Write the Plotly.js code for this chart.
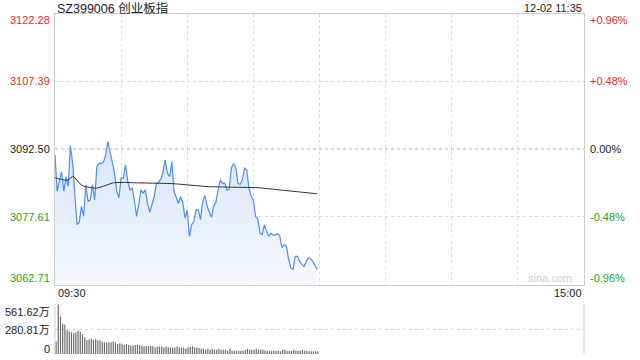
<!DOCTYPE html>
<html>
<head>
<meta charset="utf-8">
<script src="https://cdn.plot.ly/plotly-3.0.1.min.js"></script>
<style>html,body{margin:0;padding:0;background:#fff;}#chart{width:640px;height:360px;}</style>
</head>
<body>
<div id="chart"></div>
<script>
// ---- data ----
const title = "SZ399006 创业板指";
const stamp = "12-02 11:35";
const prevClose = 3092.50;
const priceTicks = [3122.28, 3107.39, 3092.50, 3077.61, 3062.71];
const priceTickText = ["3122.28", "3107.39", "3092.50", "3077.61", "3062.71"];
const pctTickText = ["+0.96%", "+0.48%", "0.00%", "-0.48%", "-0.96%"];
const timeLabels = ["09:30", "15:00"];
const volTicks = [561.62, 280.81, 0];
const volTickText = ["561.62万", "280.81万", "0"];

const price = [
  3091.2, 3083.2, 3085.5, 3087.5, 3083.2, 3086.4, 3084.3, 3093.2, 3089.4, 3082.5,
  3075.9, 3076.3, 3079.9, 3077.7, 3084.6, 3081.0, 3081.3, 3084.6, 3081.3, 3088.6,
  3089.4, 3089.3, 3089.6, 3091.2, 3094.1, 3091.9, 3089.8, 3087.2, 3083.2, 3081.8,
  3086.1, 3086.1, 3089.0, 3085.5, 3083.5, 3083.9, 3081.3, 3077.7, 3080.2, 3083.5,
  3082.8, 3083.5, 3080.5, 3078.6, 3080.3, 3082.0, 3084.9, 3085.2, 3085.8, 3087.3,
  3090.1, 3087.2, 3086.4, 3089.7, 3083.2, 3081.8, 3080.5, 3082.0, 3080.8, 3077.3,
  3079.0, 3073.3, 3075.9, 3076.5, 3079.1, 3079.1, 3077.0, 3080.8, 3082.3, 3079.9,
  3078.5, 3077.5, 3079.9, 3080.8, 3083.5, 3085.7, 3084.9, 3085.0, 3083.5, 3083.6,
  3088.3, 3089.3, 3088.5, 3085.0, 3084.7, 3085.7, 3088.3, 3087.9, 3083.9, 3082.1,
  3081.3, 3077.7, 3077.2, 3074.0, 3073.7, 3075.8, 3074.4, 3073.3, 3074.0, 3073.5,
  3073.6, 3073.9, 3073.3, 3070.8, 3071.5, 3071.1, 3068.2, 3066.4, 3066.0, 3068.9,
  3068.9, 3067.8, 3067.2, 3066.7, 3067.8, 3068.6, 3068.3, 3067.8, 3066.8, 3066.0
];

const avgPrice = [
  3086.2, 3086.0, 3085.9, 3085.8, 3085.7, 3085.6, 3085.7, 3086.2, 3086.5, 3086.2,
  3085.5, 3085.0, 3084.6, 3084.3, 3084.2, 3084.1, 3084.0, 3083.95, 3083.9, 3083.9,
  3084.0, 3084.1, 3084.3, 3084.5, 3084.7, 3084.9, 3085.0, 3085.1, 3085.15, 3085.15,
  3085.15, 3085.15, 3085.15, 3085.1, 3085.1, 3085.1, 3085.1, 3085.05, 3085.05, 3085.05,
  3085.0, 3085.0, 3085.0, 3084.95, 3084.95, 3084.95, 3084.9, 3084.9, 3084.9, 3084.9,
  3084.9, 3084.9, 3084.9, 3084.9, 3084.85, 3084.85, 3084.8, 3084.75, 3084.7, 3084.65,
  3084.6, 3084.5, 3084.45, 3084.4, 3084.35, 3084.3, 3084.3, 3084.25, 3084.25, 3084.2,
  3084.2, 3084.2, 3084.15, 3084.15, 3084.15, 3084.15, 3084.15, 3084.15, 3084.15, 3084.15,
  3084.15, 3084.15, 3084.15, 3084.15, 3084.15, 3084.15, 3084.15, 3084.15, 3084.1, 3084.1,
  3084.1, 3084.05, 3084.0, 3083.95, 3083.9, 3083.85, 3083.8, 3083.75, 3083.7, 3083.6,
  3083.55, 3083.5, 3083.4, 3083.35, 3083.3, 3083.25, 3083.2, 3083.1, 3083.05, 3083.0,
  3082.95, 3082.9, 3082.85, 3082.8, 3082.8, 3082.75, 3082.75, 3082.7, 3082.7, 3082.65
];

const volume = [
  140, 561.62, 425, 342, 330, 273, 254, 243, 235, 243,
  265, 254, 224, 186, 159, 167, 171, 159, 167, 152,
  159, 140, 129, 129, 133, 133, 140, 129, 114, 122,
  110, 103, 114, 103, 95, 95, 103, 103, 95, 95,
  84, 91, 91, 91, 91, 72, 84, 84, 84, 72,
  84, 76, 72, 72, 72, 84, 72, 72, 72,
  60, 75, 80, 87, 75, 72, 68, 60, 60, 49,
  60, 49, 55, 52, 49, 60, 49, 49, 49, 38,
  60, 38, 38, 38, 38, 38, 38, 49, 60, 49,
  49, 49, 60, 49, 49, 49, 38, 38, 38, 38,
  38, 38, 38, 30, 49, 49, 38, 38, 38, 49,
  38, 38, 38, 49, 38, 38, 30, 30, 30, 30, 30
];

// minute index along the 240-minute trading day
const minutes = price.map((_, i) => i);

// ---- styles ----
const RED = "#f0282d", GREEN = "#1ea51e", BLACK = "#222";
const FONT = "Liberation Sans, Arial, Noto Sans CJK SC, sans-serif";
const priceDomain = [0.2097, 0.9625];
const volDomain = [0.0167, 0.1547];
const xDomain = [0.0859, 0.9125];
const H = 360;
const py = px => 1 - px / H;   // pixel row -> paper fraction
// label rows (pixel) for the end labels, which sit inside the panel edges
const priceEndRows = [20, 278];
const volRows = [312, 330, 349];

const traces = [
  {
    x: minutes, y: price, type: "scatter", mode: "lines",
    line: {color: "#4d8ef0", width: 1.2},
    fill: "tozeroy",
    fillgradient: {type: "vertical", start: 3062.71, stop: 3095,
      colorscale: [[0, "rgba(246,249,254,1)"], [1, "rgba(214,228,250,1)"]]},
    xaxis: "x", yaxis: "y", hoverinfo: "skip"
  },
  {
    x: minutes, y: avgPrice, type: "scatter", mode: "lines",
    line: {color: "#333", width: 1}, xaxis: "x", yaxis: "y", hoverinfo: "skip"
  },
  {
    x: minutes, y: volume, type: "bar", width: 0.55,
    marker: {color: "#6e6e6e", line: {width: 0}},
    xaxis: "x2", yaxis: "y2", hoverinfo: "skip"
  }
];

const annotations = [];
annotations.push({text: title, xref: "paper", yref: "paper", x: 0.0859, y: py(8),
  xanchor: "left", yanchor: "middle", showarrow: false, font: {family: FONT, size: 12.5, color: BLACK}});
annotations.push({text: stamp, xref: "paper", yref: "paper", x: 0.9125, y: py(8),
  xanchor: "right", yanchor: "middle", showarrow: false, font: {family: FONT, size: 11, color: BLACK}});
priceTicks.forEach((v, i) => {
  const col = v > prevClose ? RED : (v < prevClose ? GREEN : BLACK);
  let yref = "y", yv = v;
  if (i === 0) { yref = "paper"; yv = py(priceEndRows[0]); }
  if (i === priceTicks.length - 1) { yref = "paper"; yv = py(priceEndRows[1]); }
  annotations.push({text: priceTickText[i], xref: "paper", yref: yref, x: 0.0805, y: yv,
    xanchor: "right", yanchor: "middle", showarrow: false, font: {family: FONT, size: 11, color: col}});
  annotations.push({text: pctTickText[i], xref: "paper", yref: yref, x: 0.9185, y: yv,
    xanchor: "left", yanchor: "middle", showarrow: false, font: {family: FONT, size: 11, color: col}});
});
annotations.push({text: timeLabels[0], xref: "paper", yref: "paper", x: 0.0875, y: py(293),
  xanchor: "left", yanchor: "middle", showarrow: false, font: {family: FONT, size: 11, color: BLACK}});
annotations.push({text: timeLabels[1], xref: "paper", yref: "paper", x: 0.9125, y: py(293),
  xanchor: "right", yanchor: "middle", showarrow: false, font: {family: FONT, size: 11, color: BLACK}});
annotations.push({text: "sina.com", xref: "paper", yref: "paper", x: 0.897, y: py(278),
  xanchor: "right", yanchor: "middle", showarrow: false, font: {family: FONT, size: 11, color: "#cfcfcf"}});
volTickText.forEach((t, i) => {
  annotations.push({text: t, xref: "paper", yref: "paper", x: 0.0805, y: py(volRows[i]),
    xanchor: "right", yanchor: "middle", showarrow: false, font: {family: FONT, size: 11, color: BLACK}});
});

const layout = {
  width: 640, height: 360,
  margin: {l: 0, r: 0, t: 0, b: 0},
  paper_bgcolor: "#fff", plot_bgcolor: "rgba(0,0,0,0)",
  showlegend: false,
  font: {family: FONT},
  xaxis: {domain: xDomain, range: [0, 240], anchor: "y",
    tickvals: [30, 60, 90, 120, 150, 180, 210], showticklabels: false, ticks: "",
    showgrid: true, gridcolor: "#dcdcdc", griddash: "dot", gridwidth: 1,
    showline: true, linecolor: "#cccccc", linewidth: 1, mirror: true, zeroline: false, fixedrange: true},
  yaxis: {domain: priceDomain, range: [3062.71, 3122.28], anchor: "x",
    tickvals: [3107.39, 3077.61], showticklabels: false, ticks: "",
    showgrid: true, gridcolor: "#d8d8d8", griddash: "dot", gridwidth: 1,
    showline: true, linecolor: "#cccccc", linewidth: 1, mirror: true, zeroline: false, fixedrange: true},
  xaxis2: {domain: xDomain, range: [-0.5, 240], anchor: "y2",
    showticklabels: false, ticks: "", showgrid: false, showline: false, zeroline: false, fixedrange: true},
  yaxis2: {domain: volDomain, range: [0, 561.62], anchor: "x2",
    tickvals: volTicks, showticklabels: false, ticks: "",
    showgrid: true, gridcolor: "#d0d0d0", griddash: "dot", gridwidth: 1,
    showline: false, zeroline: false, fixedrange: true},
  shapes: [
    {type: "line", xref: "x", yref: "y", x0: 0, x1: 240, y0: prevClose, y1: prevClose,
      line: {color: "#b0b0b0", width: 1, dash: "dot"}},
    {type: "line", xref: "paper", yref: "paper", x0: xDomain[0], x1: xDomain[0], y0: volDomain[0], y1: volDomain[1],
      line: {color: "#cccccc", width: 1}},
    {type: "line", xref: "paper", yref: "paper", x0: xDomain[1], x1: xDomain[1], y0: volDomain[0], y1: volDomain[1],
      line: {color: "#cccccc", width: 1}}
  ],
  annotations: annotations
};

Plotly.newPlot("chart", traces, layout, {displayModeBar: false, staticPlot: true});
</script>
</body>
</html>
